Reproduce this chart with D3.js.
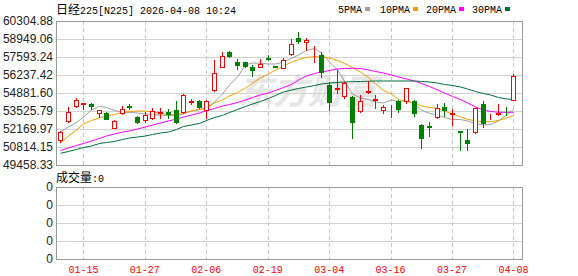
<!DOCTYPE html>
<html>
<head>
<meta charset="utf-8">
<script src="https://cdn.jsdelivr.net/npm/d3@7"></script>
<style>
body { margin: 0; background: #fff; }
svg { display: block; }
</style>
</head>
<body>
<svg width="578" height="276"></svg>
<script>
 //trading days on the chart (2026)
var dates = ['01-09','01-13','01-14','01-15','01-16','01-19','01-20','01-21','01-22','01-23',
	'01-26','01-27','01-28','01-29','01-30','02-02','02-03','02-04','02-05','02-06',
	'02-09','02-10','02-12','02-13','02-16','02-17','02-18','02-19','02-20','02-24',
	'02-25','02-26','02-27','03-02','03-03','03-04','03-05','03-06','03-09','03-10',
	'03-11','03-12','03-13','03-16','03-17','03-18','03-19','03-23','03-24','03-25',
	'03-26','03-27','03-30','03-31','04-01','04-02','04-03','04-06','04-07','04-08'];
var tickDates = ['01-15','01-27','02-06','02-19','03-04','03-16','03-27','04-08'];
var priceTicks = [49458.33, 50814.15, 52169.97, 53525.79, 54881.60, 56237.42, 57593.24, 58949.06, 60304.88];
var volTicks = ['0', '0', '0', '0', '0'];

var opens = [51342,52773,53865,54053,54053,53398,53398,52268,53338,53903,
	53037,52848,53021,53375,53473,53601,53451,54204,54279,53601,
	55108,56863,57970,57239,57179,56863,56818,57541,56893,56787,
	57797,59047,58701,58023,57744,55484,55206,54679,54603,53549,
	54935,54392,53601,53654,54242,54257,54279,52472,52374,53052,
	53805,53300,52020,51342,51967,54053,53037,53300,53488,54392];
var highs = [52020,53805,54483,54129,54166,53620,53413,52848,53903,54053,
	53172,53413,53729,53775,53654,54279,54807,54430,54355,54355,
	57367,57947,58068,57443,57239,56991,57420,57744,56916,57541,
	58927,59454,59002,58445,57970,55673,56614,55733,54633,54731,
	55763,54731,53978,53978,54355,55258,54355,52509,52675,54016,
	54166,53654,52040,52148,53775,54279,53263,54053,53790,56313];
var lows = [51154,52675,53790,53654,53714,53097,52924,52208,53278,53639,
	52622,52660,52901,52976,52999,52600,53398,54031,53729,52976,
	55033,56820,57616,56690,56818,56162,56803,57345,56803,56770,
	57744,58625,58121,57239,56110,53601,54882,54528,51455,53473,
	54859,53729,53353,53097,53473,54151,53150,50717,51666,52976,
	53172,52494,50551,50551,51892,52283,52924,53225,53225,54317];
var closes = [51967,53473,54355,54106,53940,53601,52946,52773,53654,53827,
	52698,53225,53526,53451,53278,52675,54709,54242,53850,54302,
	56366,57669,57691,56991,56916,56614,57089,57465,56840,57367,
	58573,58799,58896,58068,56441,54204,55258,55658,52720,54279,
	55033,54430,53827,53699,53677,55236,53398,51515,52298,53729,
	53601,53375,51944,51078,53729,52622,53097,53353,53451,56162];

var ma5 = [51967,52321,52660,53074,53601,53880,53790,53564,53413,53413,
	53375,53300,53263,53225,53187,53187,53300,53526,53639,53752,
	54204,54807,55484,56087,56991,57141,57119,57066,57066,57217,
	57480,57744,58083,58234,57895,57217,56614,55786,54807,54505,
	54392,54204,54129,54355,54242,54317,54053,53601,53353,53225,
	53037,52886,52886,52773,52585,52472,52509,52773,53225,53639];
var ma10 = [51116,51643,52095,52547,52811,52999,53150,53263,53413,53488,
	53526,53526,53451,53338,53263,53225,53375,53526,53639,53752,
	54129,54355,54656,54920,55258,55635,56012,56313,56614,56916,
	57217,57405,57556,57616,57593,57518,57330,57104,56803,56464,
	56049,55560,55070,54807,54392,54242,54129,53903,53790,53729,
	53526,53300,53074,52901,52773,52720,52720,52811,52999,53187];
var ma20 = [50551,50739,50928,51078,51267,51455,51643,51794,51944,52020,
	52170,52321,52472,52622,52773,52924,53074,53225,53375,53564,
	53714,53903,54016,54166,54355,54543,54731,54882,55070,55296,
	55522,55861,56162,56351,56464,56577,56690,56727,56742,56727,
	56614,56501,56388,56238,56087,55936,55786,55597,55371,55108,
	54882,54618,54392,54129,53827,53601,53488,53428,53428,53428];
var ma30 = [50340,50476,50626,50777,50890,51078,51154,51229,51380,51492,
	51568,51643,51756,51869,51944,52133,52359,52472,52585,52811,
	53037,53187,53413,53639,53865,54053,54242,54468,54694,54957,
	55108,55221,55334,55447,55560,55635,55673,55710,55733,55748,
	55771,55786,55786,55786,55786,55786,55786,55748,55710,55635,
	55522,55447,55334,55183,54995,54844,54731,54543,54430,54392];
var maNames = ['5PMA', '10PMA', '20PMA', '30PMA'];

var maColors = ['#a0a0a0', '#f5a000', '#ff00ff', '#00703a'];
var UP = '#ff0000', DOWN = '#008000';
var MONO = '"Liberation Mono", "DejaVu Sans Mono", monospace',
		CJK = '"Noto Sans CJK SC", sans-serif';

var L = 56, R = 522, T = 21, B = 165, VT = 187, VB = 259;
var svg = d3.select('svg');

var x = d3.scaleBand().domain(dates).range([56.5, 56.5 + dates.length * 7.68]),
		y = d3.scaleLinear().domain([priceTicks[0], priceTicks[priceTicks.length - 1]]).range([B, T]),
		vy = d3.scaleLinear().domain([0, volTicks.length - 1]).range([VB, VT]);

function cx(d) { return Math.round(x(d) + x.bandwidth() / 2) + 0.5; }
function py(v) { return Math.round(y(v)) + 0.5; }

 //title
var title = svg.append('text').attr('x', L).attr('y', 14).attr('fill', '#000');
title.append('tspan').style('font', '12px ' + CJK).text('日经');
title.append('tspan').style('font', '10px ' + MONO).text('225[N225] 2026-04-08 10:24');

 //legend
var legX = [338, 380, 426, 472];
maNames.forEach(function(n, i) {
	var t = svg.append('text').attr('x', legX[i]).attr('y', 13)
		.style('font', '10px ' + MONO).attr('fill', '#000').text(n);
	var w = t.node().getComputedTextLength();
	svg.append('rect').attr('x', legX[i] + w + 3).attr('y', 7).attr('width', 5).attr('height', 4)
		.attr('fill', maColors[i]);
});

 //watermark
svg.append('text').attr('x', 238).attr('y', 104)
	.style('font', 'italic bold 35px ' + CJK).attr('fill', '#e6e6e6').text('东方财富');

 //grid lines
svg.append('g').selectAll('line').data(priceTicks).enter().append('line')
	.attr('x1', L).attr('x2', R)
	.attr('y1', py).attr('y2', py)
	.attr('stroke', '#d2d2d2');
svg.append('g').selectAll('line').data(d3.range(volTicks.length)).enter().append('line')
	.attr('x1', L).attr('x2', R)
	.attr('y1', function(d) { return Math.round(vy(d)) + 0.5; })
	.attr('y2', function(d) { return Math.round(vy(d)) + 0.5; })
	.attr('stroke', '#d2d2d2');
[[T, B], [VT, VB]].forEach(function(r) {
	svg.append('g').selectAll('line').data(tickDates).enter().append('line')
		.attr('x1', cx).attr('x2', cx)
		.attr('y1', r[0]).attr('y2', r[1])
		.attr('stroke', '#c8c8c8').attr('stroke-dasharray', '4,3');
});

 //moving averages
var line = d3.line()
	.x(function(v, i) { return cx(dates[i]); })
	.y(function(v) { return y(v); });
[ma5, ma10, ma20, ma30].forEach(function(s, i) {
	svg.append('path').datum(s)
		.attr('d', line)
		.attr('fill', 'none')
		.attr('stroke', maColors[i])
		.attr('stroke-width', 1);
});

 //candles
var candles = dates.map(function(d, i) {
	return { date: d, o: opens[i], h: highs[i], l: lows[i], c: closes[i] };
});
var g = svg.append('g').selectAll('g').data(candles).enter().append('g');
g.append('line')
	.attr('x1', function(d) { return cx(d.date); })
	.attr('x2', function(d) { return cx(d.date); })
	.attr('y1', function(d) { return Math.round(y(d.h)); })
	.attr('y2', function(d) { return Math.round(y(d.l)) + 1; })
	.attr('stroke', function(d) { return d.c >= d.o ? UP : DOWN; });
g.append('rect')
	.attr('x', function(d) { return cx(d.date) - 2; })
	.attr('y', function(d) { return py(Math.max(d.o, d.c)); })
	.attr('width', 4)
	.attr('height', function(d) { return Math.max(0, py(Math.min(d.o, d.c)) - py(Math.max(d.o, d.c))); })
	.attr('fill', function(d) { return d.c >= d.o ? '#fff' : DOWN; })
	.attr('stroke', function(d) { return d.c >= d.o ? UP : DOWN; });

 //frames
[[T, B], [VT, VB]].forEach(function(r) {
	svg.append('rect').attr('x', L + 0.5).attr('y', r[0] + 0.5)
		.attr('width', R - L).attr('height', r[1] - r[0])
		.attr('fill', 'none').attr('stroke', '#999');
});

 //axes
svg.append('g').attr('transform', 'translate(' + L + ',0)')
	.call(d3.axisLeft(y).tickValues(priceTicks).tickFormat(d3.format('.2f')).tickSize(0).tickPadding(3))
	.attr('font-size', 12).attr('font-family', '"Liberation Sans", Arial, sans-serif')
	.call(function(a) { a.select('.domain').remove(); a.selectAll('text').attr('fill', '#222'); });
svg.append('g').attr('transform', 'translate(' + L + ',0)')
	.call(d3.axisLeft(vy).tickValues(d3.range(volTicks.length)).tickFormat(function(i) { return volTicks[i]; }).tickSize(0).tickPadding(3))
	.attr('font-size', 12).attr('font-family', '"Liberation Sans", Arial, sans-serif')
	.call(function(a) { a.select('.domain').remove(); a.selectAll('text').attr('fill', '#222'); });
svg.append('g').attr('transform', 'translate(0,' + VB + ')')
	.call(d3.axisBottom(x).tickValues(tickDates).tickSize(0).tickPadding(7))
	.attr('font-size', 10).attr('font-family', MONO)
	.call(function(a) { a.select('.domain').remove(); a.selectAll('text').attr('fill', '#f00'); });

 //volume caption
var vol = svg.append('text').attr('x', L).attr('y', 182).attr('fill', '#000');
vol.append('tspan').style('font', '12px ' + CJK).text('成交量');
vol.append('tspan').style('font', '10px ' + MONO).text(':0');
</script>
</body>
</html>
